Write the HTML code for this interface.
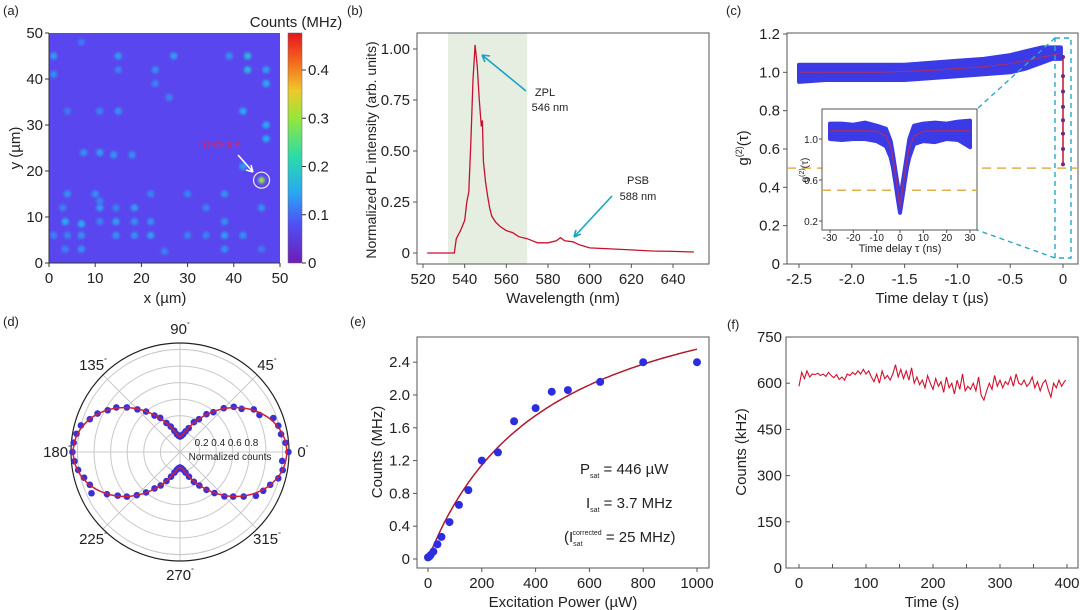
<!DOCTYPE html>
<html><head><meta charset="utf-8"><style>
html,body{margin:0;padding:0;background:#fff;}
svg{display:block;font-family:"Liberation Sans",Arial,sans-serif;}
</style></head><body>
<svg id="fig" width="1080" height="610" viewBox="0 0 1080 610" xmlns="http://www.w3.org/2000/svg">
<defs>
<filter id="blur" x="-50%" y="-50%" width="200%" height="200%"><feGaussianBlur stdDeviation="1.3"/></filter>
<linearGradient id="cbar" x1="0" y1="1" x2="0" y2="0">
<stop offset="0" stop-color="#6e1eb4"/><stop offset="0.17" stop-color="#5050f5"/><stop offset="0.31" stop-color="#28aaf0"/><stop offset="0.46" stop-color="#28dcaa"/><stop offset="0.63" stop-color="#96e63c"/><stop offset="0.75" stop-color="#f0c828"/><stop offset="0.88" stop-color="#f5641e"/><stop offset="1" stop-color="#e6141e"/>
</linearGradient>
</defs>
</svg>
<script>
// ---------- DATA ----------
// (a) spots
const spotX=[1,1,4,7,15,15,23,23,27,26,39,43,43,47,47,42,47,47,15,11,7.5,11,14,18,42,46,4,10,11,11,14.5,18.5,22,30,38,3,34,46,3.5,7,11,14.5,18.5,22,38,1,4,7,14.5,18.5,22,30,34,38,42,3.5,7,25,38,46];
const spotY=[45,41,33,48,45,42,42,39,45,36,45,45,42,42,39,33,30,27,33,33,24,24,23.5,23.5,21,18,15,15,13.5,12,12,12,15,15,15,12,12,12,9,8.5,9,9,9,9,9,6,6,6,6,6,6,6,6,6,6,3,3,2.5,3,3];
const spotV=[0.08,0.07,0.05,0.05,0.08,0.06,0.07,0.06,0.08,0.06,0.07,0.11,0.11,0.08,0.09,0.09,0.09,0.09,0.07,0.06,0.07,0.08,0.07,0.07,0.08,0.24,0.07,0.07,0.06,0.08,0.06,0.08,0.06,0.06,0.07,0.06,0.06,0.07,0.09,0.09,0.06,0.08,0.07,0.07,0.07,0.06,0.06,0.07,0.07,0.07,0.08,0.06,0.06,0.08,0.07,0.06,0.07,0.06,0.07,0.05];
// (b) spectrum
const wl=[522,530,535,536,538,540,541,542,543,544,545,546,547,548,548.5,549,550,551,552,553,555,557,560,563,566,570,575,580,584,586,588,592,595,600,610,620,630,640,650];
const pl=[0,0,0.0,0.07,0.11,0.16,0.25,0.30,0.55,0.85,1.02,0.92,0.75,0.62,0.65,0.45,0.35,0.28,0.22,0.18,0.15,0.13,0.11,0.10,0.08,0.07,0.05,0.05,0.06,0.075,0.06,0.055,0.04,0.025,0.02,0.015,0.01,0.008,0.005];
const bTicksX=[520,540,560,580,600,620,640];
const bTicksY=[0,0.25,0.5,0.75,1.0];
const bTickLabY=["0","0.25","0.50","0.75","1.00"];
// (c) g2 main
const tBand=[-2.5,-2.25,-2.0,-1.75,-1.5,-1.25,-1.0,-0.75,-0.5,-0.35,-0.2,-0.1,-0.02];
const gUpper=[1.04,1.04,1.04,1.04,1.04,1.05,1.06,1.07,1.09,1.11,1.13,1.13,1.13];
const gLower=[0.95,0.96,0.96,0.96,0.96,0.97,0.98,0.99,1.0,1.02,1.05,1.07,1.07];
const gFit=[1.0,1.0,1.0,1.0,1.005,1.01,1.02,1.03,1.045,1.06,1.08,1.09,1.1];
const gDip=[1.08,0.98,0.9,0.82,0.75,0.68,0.6,0.52];
const cTicksX=[-2.5,-2.0,-1.5,-1.0,-0.5,0];
const cTickLabX=["-2.5","-2.0","-1.5","-1.0","-0.5","0"];
const cTicksY=[0,0.2,0.4,0.6,0.8,1.0,1.2];
const cTickLabY=["0","0.2","0.4","0.6","0.8","1.0","1.2"];
// (c) inset
const tIn=[-30,-25,-20,-15,-10,-6,-4,-3,-2,-1,0,1,2,3,4,6,10,15,20,25,30];
const inUpper=[1.15,1.15,1.14,1.16,1.13,1.1,0.98,0.85,0.7,0.55,0.4,0.55,0.7,0.85,1.0,1.13,1.15,1.16,1.15,1.17,1.18];
const inLower=[1.0,0.99,1.0,1.0,0.98,0.93,0.82,0.72,0.58,0.42,0.28,0.42,0.58,0.72,0.82,0.95,0.98,0.97,1.0,0.99,0.92];
const inFit=[1.08,1.08,1.08,1.08,1.075,1.03,0.92,0.8,0.66,0.5,0.34,0.5,0.66,0.8,0.92,1.03,1.075,1.08,1.08,1.08,1.08];
const inTicksX=[-30,-20,-10,0,10,20,30];
const inTicksY=[0.2,0.6,1.0];
// (d) polar
const polAng=[0,5,10,15,20,25,30,35,40,45,50,55,60,65,70,75,80,85,90,95,100,105,110,115,120,125,130,135,140,145,150,155,160,165,170,175,180,185,190,195,200,205,210,215,220,225,230,235,240,245,250,255,260,265,270,275,280,285,290,295,300,305,310,315,320,325,330,335,340,345,350,355];
const polVal=[1.27,1.24,1.2,1.19,1.16,1.02,0.99,0.87,0.81,0.71,0.59,0.52,0.42,0.36,0.27,0.22,0.18,0.16,0.15,0.16,0.18,0.23,0.29,0.35,0.44,0.5,0.6,0.69,0.8,0.9,0.97,1.06,1.12,1.2,1.23,1.25,1.26,1.24,1.21,1.16,1.12,1.14,0.98,0.88,0.8,0.7,0.6,0.5,0.43,0.35,0.28,0.22,0.18,0.16,0.15,0.16,0.18,0.22,0.28,0.36,0.43,0.52,0.61,0.72,0.8,0.9,1.02,1.07,1.12,1.19,1.22,1.2];
const polFitA=1.1, polFitB=0.15;
const polRings=[0.2,0.4,0.6,0.8,1.0,1.2];
const polLabels=["0","45","90","135","180","225","270","315"];
// (e) saturation
const powX=[0,5,10,20,35,50,80,115,150,200,260,320,400,460,520,640,800,1000];
const cntY=[0.02,0.03,0.05,0.09,0.18,0.27,0.45,0.66,0.84,1.2,1.3,1.68,1.84,2.04,2.06,2.16,2.4,2.4];
const Isat=3.7, Psat=446;
const eTicksX=[0,200,400,600,800,1000];
const eTicksY=[0,0.4,0.8,1.2,1.6,2.0,2.4];
const eTickLabY=["0","0.4","0.8","1.2","1.6","2.0","2.4"];
// (f) time trace
const tT=[0,4,8,12,16,20,24,28,32,36,40,44,48,52,56,60,64,68,72,76,80,84,88,92,96,100,104,108,112,116,120,124,128,132,136,140,144,148,152,156,160,164,168,172,176,180,184,188,192,196,200,204,208,212,216,220,224,228,232,236,240,244,248,252,256,260,264,268,272,276,280,284,288,292,296,300,304,308,312,316,320,324,328,332,336,340,344,348,352,356,360,364,368,372,376,380,384,388,392,396,398];
const cT=[590,635,615,640,620,630,628,632,625,630,622,635,625,618,628,612,620,610,630,625,635,628,640,630,645,630,640,620,605,630,600,640,615,625,610,630,660,620,645,615,640,610,650,600,620,595,610,585,625,600,580,615,590,605,570,620,585,600,565,610,580,630,575,590,580,600,575,620,560,545,575,600,580,625,590,610,585,605,595,620,590,630,600,595,610,590,600,620,585,605,575,600,610,580,555,600,585,610,590,605,610];
const fTicksX=[0,100,200,300,400];
const fTicksY=[0,150,300,450,600,750];

// ---------- helpers ----------
const NS="http://www.w3.org/2000/svg";
const svg=document.getElementById('fig');
function mk(tag,attrs,parent){const e=document.createElementNS(NS,tag);for(const k in attrs)e.setAttribute(k,attrs[k]);(parent||svg).appendChild(e);return e;}
function txt(s,x,y,size,anchor,parent,extra){const t=mk('text',Object.assign({x:x,y:y,'font-size':size,'text-anchor':anchor||'middle',fill:'#222'},extra||{}),parent);t.textContent=s;return t;}
function grp(){return mk('g',{});}
function cmap(v){const st=[[0,[110,30,180]],[0.08,[80,80,245]],[0.15,[40,170,240]],[0.22,[40,220,170]],[0.3,[150,230,60]],[0.36,[240,200,40]],[0.42,[245,100,30]],[0.48,[230,20,30]]];
for(let i=0;i<st.length-1;i++){if(v<=st[i+1][0]){const f=(v-st[i][0])/(st[i+1][0]-st[i][0]);const c=st[i][1].map((a,j)=>Math.round(a+(st[i+1][1][j]-a)*f));return 'rgb('+c.join(',')+')';}}return 'rgb(230,20,30)';}

// panel labels
[["(a)",3,15],["(b)",347,15],["(c)",726,15],["(d)",3,326],["(e)",350,326],["(f)",727,329]].forEach(p=>{const t=txt(p[0],p[1],p[2],13,'start');

});

// ---------- (a) ----------
(function(){
const g=grp();


const X=v=>49+v*231/50, Y=v=>263-v*230/50;
const bg=mk('rect',{x:49,y:33,width:231,height:230,fill:'rgb(90,70,238)'},g);


for(let i=0;i<spotX.length;i++){const c=mk('circle',{cx:X(spotX[i]),cy:Y(spotY[i]),r:spotV[i]>0.15?3.2:3.6,fill:cmap(spotV[i]+0.06),filter:'url(#blur)'},g);

}
const ring=mk('circle',{cx:X(46),cy:Y(18),r:8,fill:'none',stroke:'#f4e8f4','stroke-width':1.2},g);


const ar=mk('path',{d:'M238 155 L253 172 M253 172 L246 170 M253 172 L251 165',stroke:'#fff','stroke-width':1.5,fill:'none'},g);


const dl=txt('Defect A',222,148,10,'middle',g,{fill:'#e0245e'});


mk('path',{d:'M49 33 V263 H280',stroke:'#333',fill:'none','stroke-width':1},g);
[0,10,20,30,40,50].forEach(v=>{mk('line',{x1:X(v),x2:X(v),y1:263,y2:267,stroke:'#333'},g);mk('line',{x1:45,x2:49,y1:Y(v),y2:Y(v),stroke:'#333'},g);
const a=txt(String(v),X(v),283,15,'middle',g);


const b=txt(String(v),43,Y(v)+5,15,'end',g);

});
const xt=txt('x (µm)',165,303,15,'middle',g);


const yt=txt('y (µm)',0,0,15,'middle',g,{transform:'translate(20,148) rotate(-90)'});


const cb=mk('rect',{x:288,y:33,width:14,height:230,fill:'url(#cbar)',stroke:'#666','stroke-width':0.5},g);


const CY=v=>263-v*482.5;
[0,0.1,0.2,0.3,0.4].forEach(v=>{mk('line',{x1:302,x2:306,y1:CY(v),y2:CY(v),stroke:'#333'},g);
const t=txt(v===0?'0':v.toFixed(1),308,CY(v)+5,15,'start',g);

});
const ct=txt('Counts (MHz)',296,27,15,'middle',g);


})();

// ---------- (b) ----------
(function(){
const g=grp();


const X=v=>423+(v-520)*250/120, Y=v=>253-v*204;
const sh=mk('rect',{x:X(532),y:33,width:X(570)-X(532),height:231,fill:'#e6eee2'},g);


mk('rect',{x:417,y:33,width:292,height:231,fill:'none',stroke:'#555','stroke-width':1},g);
let d='';wl.forEach((w,i)=>{d+=(i?'L':'M')+X(w).toFixed(1)+' '+Y(pl[i]).toFixed(1);});
const ln=mk('path',{d:d,stroke:'#c8102e',fill:'none','stroke-width':1.3},g);


bTicksX.forEach(v=>{mk('line',{x1:X(v),x2:X(v),y1:264,y2:268,stroke:'#555'},g);
const t=txt(String(v),X(v),284,15,'middle',g);

});
bTicksY.forEach((v,i)=>{mk('line',{x1:413,x2:417,y1:Y(v),y2:Y(v),stroke:'#555'},g);
const t=txt(bTickLabY[i],410,Y(v)+5,15,'end',g);

});
const xt=txt('Wavelength (nm)',563,303,15,'middle',g);


const yt=txt('Normalized PL intensity (arb. units)',0,0,14,'middle',g,{transform:'translate(376,150) rotate(-90)'});


const a1=mk('path',{d:'M526 91 L482 55 M482 55 L490 56 M482 55 L485 62',stroke:'#1aa3c4','stroke-width':1.6,fill:'none'},g);


const z1=txt('ZPL',545,96,11,'middle',g);


const z2=txt('546 nm',550,111,11,'middle',g);


const a2=mk('path',{d:'M612 196 L574 237 M574 237 L581 234 M574 237 L576 230',stroke:'#1aa3c4','stroke-width':1.6,fill:'none'},g);


const p1=txt('PSB',638,184,11,'middle',g);


const p2=txt('588 nm',638,200,11,'middle',g);


})();

// ---------- (c) ----------
(function(){
const g=grp();


const X=v=>1063+v*264/2.5, Y=v=>264-v*230/1.2;
mk('rect',{x:787,y:33,width:291,height:231,fill:'none',stroke:'#555'},g);
const dash=mk('line',{x1:787,x2:1078,y1:Y(0.5),y2:Y(0.5),stroke:'#e0b050','stroke-width':1.5,'stroke-dasharray':'9 6'},g);


let d='';tBand.forEach((t,i)=>{d+=(i?'L':'M')+X(t).toFixed(1)+' '+Y(gUpper[i]).toFixed(1);});
for(let i=tBand.length-1;i>=0;i--)d+='L'+X(tBand[i]).toFixed(1)+' '+Y(gLower[i]).toFixed(1);
const band=mk('path',{d:d+'Z',fill:'#3a3ae6',stroke:'#3a3ae6','stroke-width':4,'stroke-linejoin':'round'},g);


let f='';tBand.forEach((t,i)=>{f+=(i?'L':'M')+X(t).toFixed(1)+' '+Y(gFit[i]).toFixed(1);});
const fit=mk('path',{d:f,stroke:'#a0306e',fill:'none','stroke-width':1.2},g);


const vl=mk('line',{x1:X(0),x2:X(0),y1:Y(gDip[0]),y2:Y(gDip[gDip.length-1]),stroke:'#c8102e','stroke-width':1.5},g);


gDip.forEach(v=>{const c=mk('circle',{cx:X(0),cy:Y(v),r:2,fill:'#6a2a8a'},g);

});
const zr=mk('rect',{x:1055,y:38,width:16,height:220,fill:'none',stroke:'#2aa8c8','stroke-width':1.4,'stroke-dasharray':'5 4'},g);


const zl=mk('path',{d:'M1055 38 L977 109 M1055 258 L977 230',stroke:'#2aa8c8','stroke-width':1.4,'stroke-dasharray':'5 4',fill:'none'},g);


cTicksX.forEach((v,i)=>{mk('line',{x1:X(v),x2:X(v),y1:264,y2:268,stroke:'#555'},g);
const t=txt(cTickLabX[i],X(v),284,15,'middle',g);

});
cTicksY.forEach((v,i)=>{mk('line',{x1:783,x2:787,y1:Y(v),y2:Y(v),stroke:'#555'},g);
const t=txt(cTickLabY[i],780,Y(v)+5,15,'end',g);

});
const xt=txt('Time delay τ (µs)',932,303,15,'middle',g);


const yt=mk('text',{'font-size':15,'text-anchor':'middle',fill:'#222',transform:'translate(748,148) rotate(-90)'},g);
yt.innerHTML='g<tspan font-size="9" dy="-6">(2)</tspan><tspan dy="6">(τ)</tspan>';


// inset
const ig=mk('g',{},g);


const IX=v=>900+v*70/30, IY=v=>180-(v-0.6)*102.5;
mk('rect',{x:822,y:109,width:155,height:121,fill:'#fff',stroke:'#555'},ig);
const idash=mk('line',{x1:822,x2:977,y1:IY(0.5),y2:IY(0.5),stroke:'#e0b050','stroke-width':1.5,'stroke-dasharray':'9 6'},ig);


let id='';tIn.forEach((t,i)=>{id+=(i?'L':'M')+IX(t).toFixed(1)+' '+IY(inUpper[i]).toFixed(1);});
for(let i=tIn.length-1;i>=0;i--)id+='L'+IX(tIn[i]).toFixed(1)+' '+IY(inLower[i]).toFixed(1);
const ib=mk('path',{d:id+'Z',fill:'#3a3ae6',stroke:'#3a3ae6','stroke-width':4,'stroke-linejoin':'round'},ig);


let ifit='';tIn.forEach((t,i)=>{ifit+=(i?'L':'M')+IX(t).toFixed(1)+' '+IY(inFit[i]).toFixed(1);});
const ifl=mk('path',{d:ifit,stroke:'#a0306e',fill:'none','stroke-width':1.4},ig);


inTicksX.forEach(v=>{mk('line',{x1:IX(v),x2:IX(v),y1:230,y2:233,stroke:'#555'},ig);
const t=txt(String(v),IX(v),241,10,'middle',ig);

});
inTicksY.forEach(v=>{mk('line',{x1:819,x2:822,y1:IY(v),y2:IY(v),stroke:'#555'},ig);
const t=txt(v.toFixed(1),818,IY(v)+4,10,'end',ig);

});
const ixt=txt('Time delay τ (ns)',900,252,11,'middle',ig);


const iyt=mk('text',{'font-size':10,'text-anchor':'middle',fill:'#222',transform:'translate(808,170) rotate(-90)'},ig);
iyt.innerHTML='g<tspan font-size="7" dy="-4">(2)</tspan><tspan dy="4">(τ)</tspan>';


})();

// ---------- (d) ----------
(function(){
const g=grp();


const cx=180,cy=452,R=v=>3+v*83,RO=109;
polRings.forEach(v=>{const c=mk('circle',{cx:cx,cy:cy,r:R(v),fill:'none',stroke:'#c8c8c8','stroke-width':1},g);

});
[0,45,90,135].forEach(a=>{const r=a*Math.PI/180;mk('line',{x1:cx-RO*Math.cos(r),y1:cy+RO*Math.sin(r),x2:cx+RO*Math.cos(r),y2:cy-RO*Math.sin(r),stroke:'#c8c8c8'},g);});
const oc=mk('circle',{cx:cx,cy:cy,r:RO,fill:'none',stroke:'#222','stroke-width':1.2},g);


polAng.forEach((a,i)=>{const r=a*Math.PI/180,v=polVal[i];const c=mk('circle',{cx:cx+R(v)*Math.cos(r),cy:cy-R(v)*Math.sin(r),r:3.3,fill:'#3a30d8'},g);

});
let d='';for(let a=0;a<=360;a+=2){const r=a*Math.PI/180,v=polFitA*Math.cos(r)**2+polFitB;d+=(a?'L':'M')+(cx+R(v)*Math.cos(r)).toFixed(1)+' '+(cy-R(v)*Math.sin(r)).toFixed(1);}
const fl=mk('path',{d:d+'Z',stroke:'#d0203a',fill:'none','stroke-width':1.5},g);


polLabels.forEach((s,i)=>{const r=i*45*Math.PI/180,rr=RO+14;const t=mk('text',{x:cx+rr*Math.cos(r),y:cy-rr*Math.sin(r)+5,'font-size':15,'text-anchor':'middle',fill:'#222'},g);
t.innerHTML=s+'<tspan font-size="7" dy="-7">°</tspan>';

});
[0.2,0.4,0.6,0.8].forEach(v=>{const t=txt(String(v),cx+R(v)+2,cy-6,10,'middle',g);

});
const nl=txt('Normalized counts',cx+50,cy+8,10,'middle',g);


})();

// ---------- (e) ----------
(function(){
const g=grp();


const X=v=>428+v*0.269, Y=v=>559-v*82;
mk('rect',{x:417,y:337,width:292,height:231,fill:'none',stroke:'#555'},g);
let d='';for(let p=0;p<=1000;p+=10){d+=(p?'L':'M')+X(p).toFixed(1)+' '+Y(Isat*p/(p+Psat)).toFixed(1);}
const fl=mk('path',{d:d,stroke:'#b0182e',fill:'none','stroke-width':1.5},g);


powX.forEach((p,i)=>{const c=mk('circle',{cx:X(p),cy:Y(cntY[i]),r:4,fill:'#2c2ce0'},g);

});
eTicksX.forEach(v=>{mk('line',{x1:X(v),x2:X(v),y1:568,y2:572,stroke:'#555'},g);
const t=txt(String(v),X(v),588,15,'middle',g);

});
eTicksY.forEach((v,i)=>{mk('line',{x1:413,x2:417,y1:Y(v),y2:Y(v),stroke:'#555'},g);
const t=txt(eTickLabY[i],410,Y(v)+5,15,'end',g);

});
const xt=txt('Excitation Power (µW)',563,607,15,'middle',g);


const yt=txt('Counts (MHz)',0,0,15,'middle',g,{transform:'translate(382,452) rotate(-90)'});


const a1=mk('text',{x:580,y:474,'font-size':15,fill:'#222'},g);
a1.innerHTML='P<tspan font-size="7" dy="4">sat</tspan><tspan dy="-4"> = 446 µW</tspan>';


const a2=mk('text',{x:586,y:508,'font-size':15,fill:'#222'},g);
a2.innerHTML='I<tspan font-size="7" dy="4">sat</tspan><tspan dy="-4"> = 3.7 MHz</tspan>';


const a3=mk('text',{x:564,y:542,'font-size':15,fill:'#222'},g);
a3.innerHTML='(I<tspan font-size="7" dy="4">sat</tspan><tspan font-size="7" dx="-10" dy="-11">corrected</tspan><tspan dy="7"> = 25 MHz)</tspan>';


})();

// ---------- (f) ----------
(function(){
const g=grp();


const X=v=>799+v*0.67, Y=v=>568-v*231/750;
mk('rect',{x:786,y:337,width:292,height:231,fill:'none',stroke:'#555'},g);
let d='';tT.forEach((t,i)=>{d+=(i?'L':'M')+X(t).toFixed(1)+' '+Y(cT[i]).toFixed(1);});
const ln=mk('path',{d:d,stroke:'#d0102e',fill:'none','stroke-width':1.1},g);


[0,50,100,150,200,250,300,350,400].forEach(v=>{mk('line',{x1:X(v),x2:X(v),y1:568,y2:564,stroke:'#555'},g);});
fTicksX.forEach(v=>{const t=txt(String(v),X(v),588,15,'middle',g);

});
fTicksY.forEach(v=>{mk('line',{x1:786,x2:790,y1:Y(v),y2:Y(v),stroke:'#555'},g);
const t=txt(String(v),782,Y(v)+5,15,'end',g);

});
const xt=txt('Time (s)',932,607,15,'middle',g);


const yt=txt('Counts (kHz)',0,0,15,'middle',g,{transform:'translate(746,452) rotate(-90)'});


})();
</script>
</body></html>
